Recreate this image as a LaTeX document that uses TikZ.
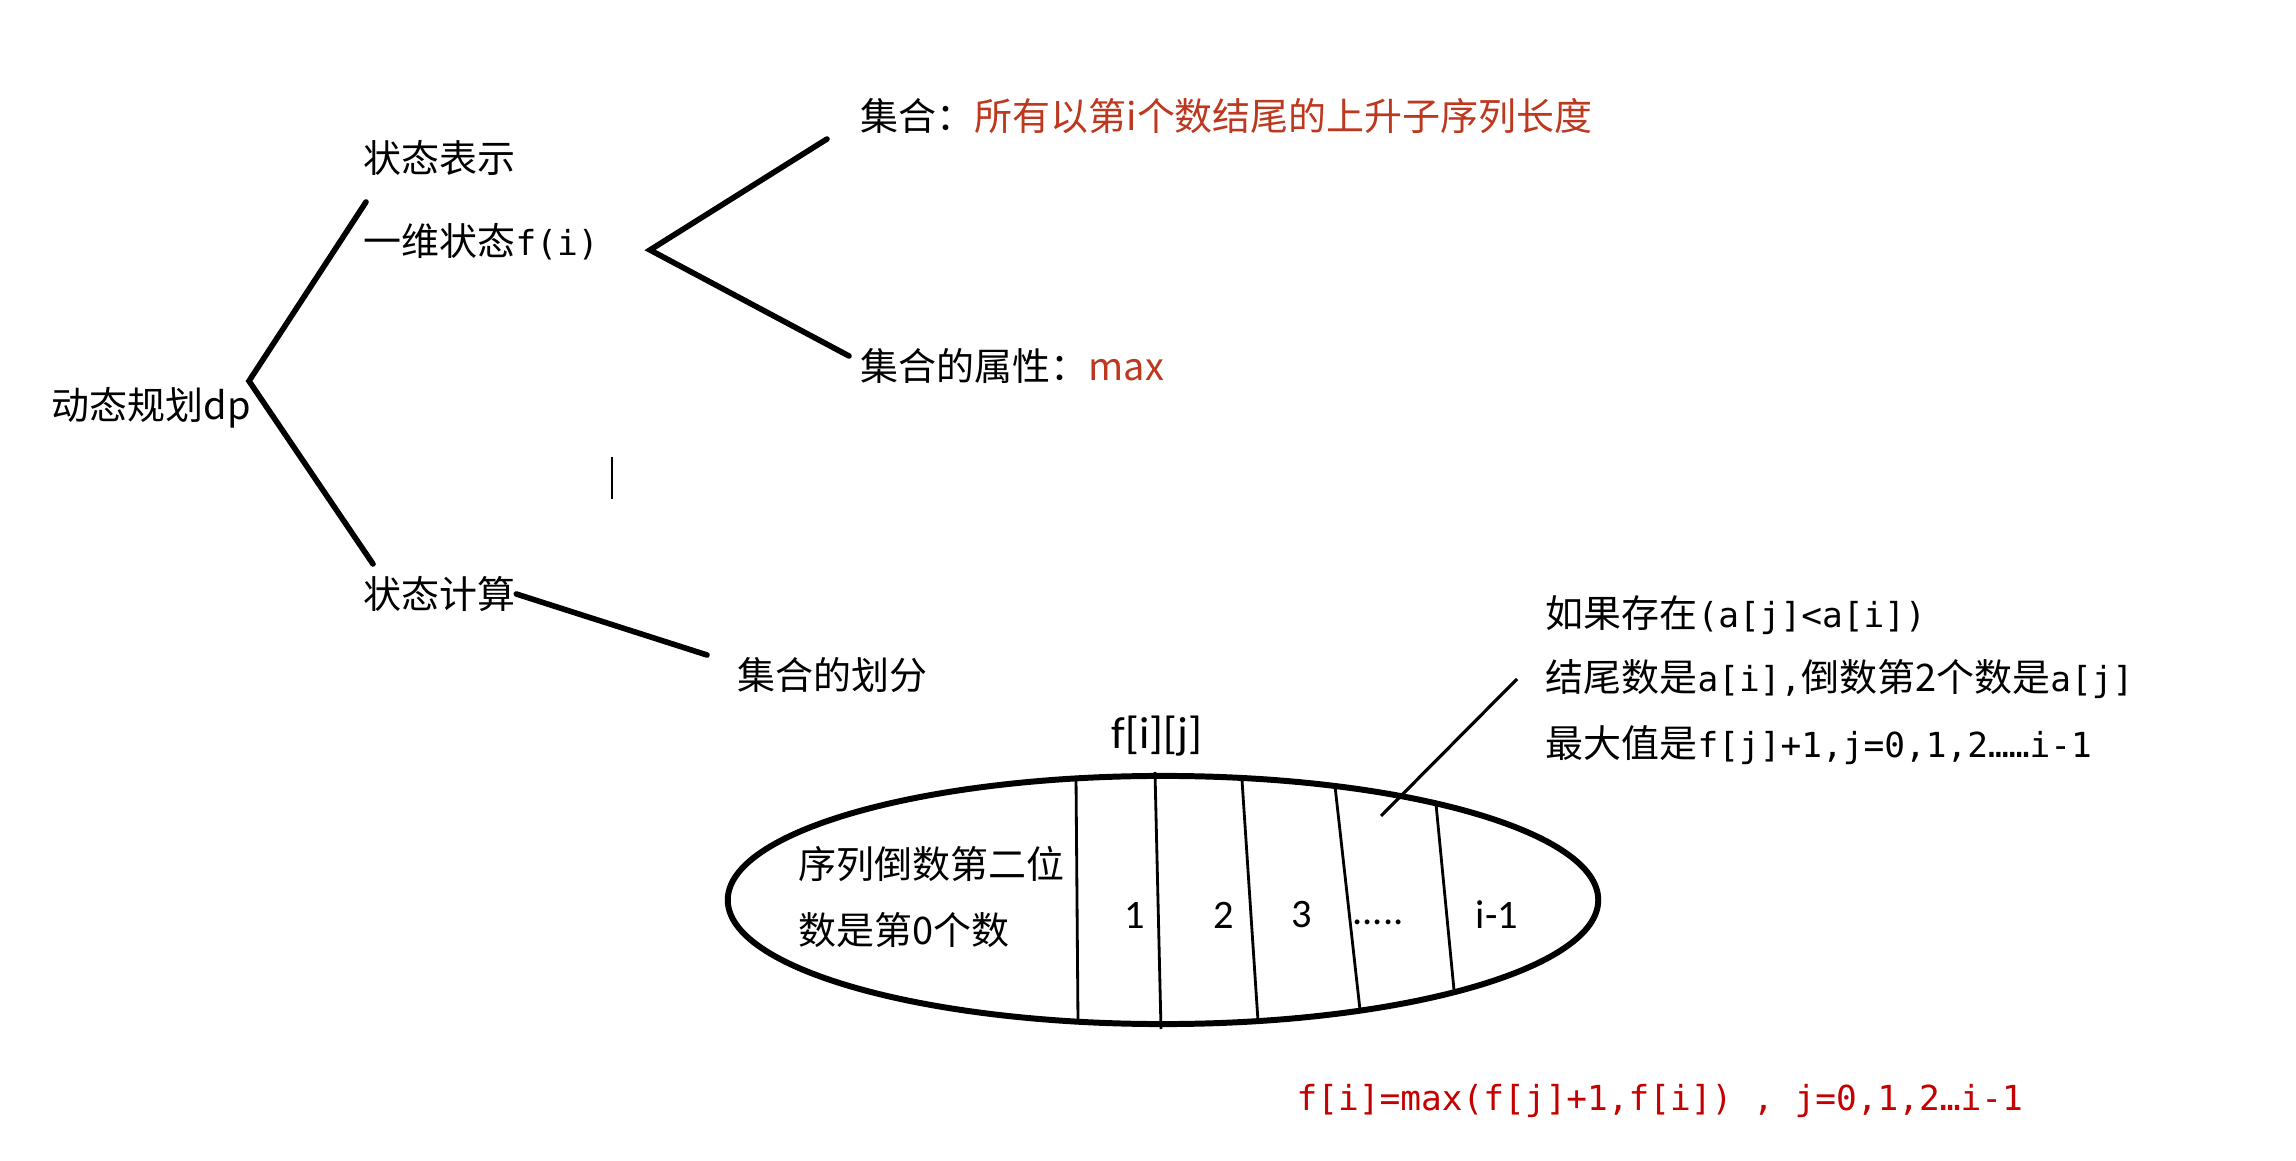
\documentclass[tikz,border=0pt]{standalone}
\usepackage{fontspec}
\setmainfont{Noto Sans CJK SC}
\newfontfamily\monofont{DejaVu Sans Mono}
\newfontfamily\calfont{Carlito}
\usepackage{tikz}
\usetikzlibrary{positioning}
\definecolor{setred}{RGB}{188,56,30}
\definecolor{eqred}{RGB}{196,0,0}
\newcommand{\mono}[1]{{\monofont\fontsize{9.8}{12}\selectfont #1}}

\begin{document}
\begin{tikzpicture}[
  x=0.01cm, y=-0.01cm,
  font=\fontsize{10.8}{13}\selectfont,
  txt/.style={inner sep=0pt, anchor=west},
  num/.style={inner sep=0pt, font=\calfont\fontsize{11.5}{13}\selectfont},
  branch/.style={line width=1.6pt, line cap=round},
  part/.style={line width=0.8pt},
  ptr/.style={line width=0.9pt}
]
\useasboundingbox (0,0) rectangle (2296,1161);
% ---- tree (left) ----
\node[txt] (root)  at (51,408)  {动态规划dp};
\node[txt] (repr)  at (363,158) {状态表示};
\node[txt] (dim)   at (363,242) {一维状态\mono{f(i)}};
\node[txt] (calc)  at (363,594) {状态计算};
\node[txt] (split) at (737,675) {集合的划分};
\coordinate (fork0) at (249,381);
\coordinate (up0)   at (366,202);
\coordinate (dn0)   at (373,564);
\draw[branch] (up0) -- (fork0) -- (dn0);
\coordinate (splitend) at (707,655);
\draw[branch] (calc.east) -- (splitend);
% ---- set / attribute ----
\node[txt] (set)  at (860,116) {集合：\textcolor{setred}{所有以第i个数结尾的上升子序列长度}};
\node[txt] (attr) at (860,366) {集合的属性：\textcolor{setred}{max}};
\coordinate (fork1) at (650,250);
\coordinate (up1)   at (827,139);
\coordinate (dn1)   at (849,356);
\draw[branch] (up1) -- (fork1) -- (dn1);
% cursor mark
\coordinate (cur0) at (612,457);
\coordinate (cur1) at (612,499);
\draw[line width=0.4pt] (cur0) -- (cur1);
% ---- partition ellipse ----
\node[inner sep=0pt, font=\calfont\fontsize{12.8}{15}\selectfont] (fij) at (1157,736) {f[i][j]};
\draw[line width=1.7pt] (1163,900) ellipse [x radius=4.35cm, y radius=1.24cm];
\foreach \xa/\ya/\xb/\yb in {1076/776/1078/1022, 1155/772/1161/1029,
                             1242/780/1258/1021, 1335/786/1360/1010,
                             1436/804/1454/990}
  \draw[part] (\xa,\ya) -- (\xb,\yb);
\node[txt] (last1) at (798,864) {序列倒数第二位};
\node[txt] (last2) at (798,930) {数是第0个数};
\node[num] (p1) at (1135,915) {1};
\node[num] (p2) at (1224,915) {2};
\node[num] (p3) at (1302,915) {3};
\node[num] (pd) at (1378,922) {.....};
\node[num] (pn) at (1497,915) {i-1};
% ---- note (right) ----
\node[txt] (cond) at (1545,615) {如果存在\mono{(a[j]<a[i])}};
\node[txt] (tail) at (1545,679) {结尾数是\mono{a[i],}倒数第2个数是\mono{a[j]}};
\node[txt] (best) at (1545,745) {最大值是\mono{f[j]+1,j=0,1,2……i-1}};
\coordinate (ptr0) at (1381,816);
\coordinate (ptr1) at (1517,679);
\draw[ptr] (ptr0) -- (ptr1);
% ---- transition ----
\node[txt, text=eqred, font=\monofont\fontsize{9.8}{12}\selectfont] (eq) at (1296,1101)
  {f[i]=max(f[j]+1,f[i]) , j=0,1,2…i-1};
\end{tikzpicture}
\end{document}
